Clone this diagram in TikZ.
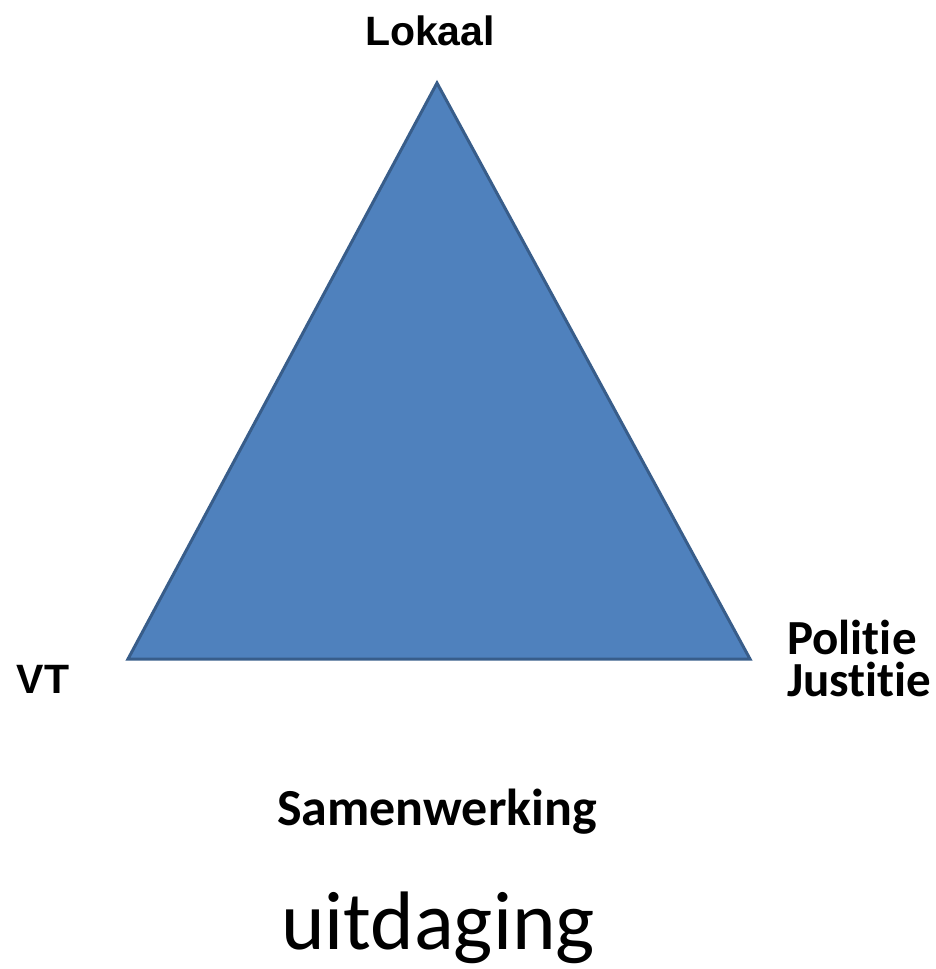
\documentclass[tikz,border=0pt]{standalone}
\usepackage{fontspec}
\setmainfont[Ligatures=CommonOff]{Carlito}
\newfontfamily\arialfont{Liberation Sans}
\definecolor{triblue}{RGB}{79,129,189}
\definecolor{triedge}{RGB}{56,93,138}

\tikzset{
  corner/.style={font=\arialfont\bfseries\fontsize{41}{41}\selectfont, inner sep=0pt, anchor=base},
  cornerc/.style={font=\bfseries\fontsize{49}{42}\selectfont, inner sep=0pt, anchor=base west, align=left},
  title/.style={font=\bfseries\fontsize{52}{52}\selectfont, inner sep=0pt, anchor=base}
}

\begin{document}
\begin{tikzpicture}[x=1pt,y=-1pt]
  \useasboundingbox (0,0) rectangle (936,969);
  % triangle corners
  \coordinate (top) at (437,83);
  \coordinate (left) at (128,659);
  \coordinate (right) at (750,659);
  \filldraw [fill=triblue, draw=triedge, line width=3pt, line join=miter] (top) -- (right) -- (left) -- cycle;
  % labels
  \node (lokaal) [corner] at (430,45) {Lokaal};
  \node (vt) [corner] at (43,693) {VT};
  \node (politie) [cornerc] at (787,696) {Politie\\Justitie};
  \node (samen) [title] at (437,825) {Samenwerking};
  \node (uitdaging) [inner sep=0pt, anchor=base, font=\fontsize{83}{83}\selectfont] at (438,949) {uitdaging};
\end{tikzpicture}
\end{document}
